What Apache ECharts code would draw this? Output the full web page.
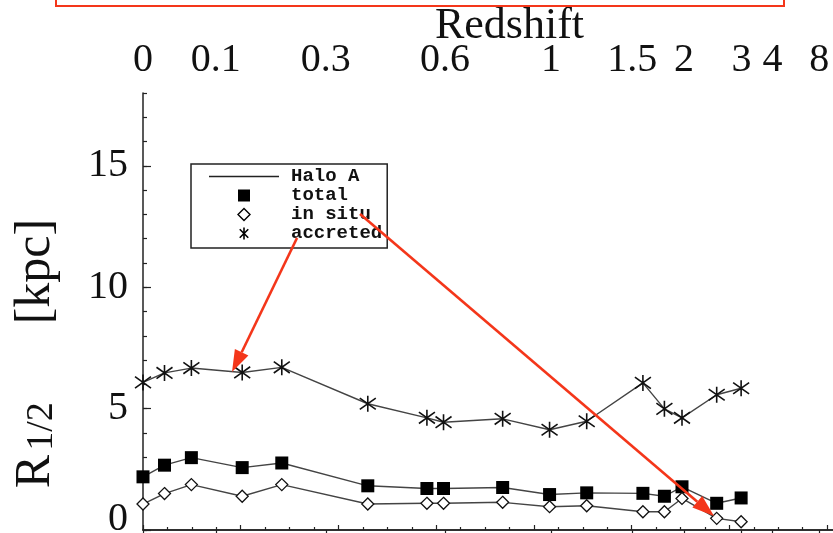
<!DOCTYPE html>
<html>
<head>
<meta charset="utf-8">
<style>
  html, body { margin: 0; padding: 0; background: #ffffff; }
  #chart { width: 833px; height: 533px; }
</style>
<script src="https://cdn.jsdelivr.net/npm/echarts@6/dist/echarts.min.js"></script>
</head>
<body>
<div id="chart"></div>
<script>
// ---- data (x = time coordinate of the bottom axis, y = R_1/2 in kpc) ----
const snapTimes   = [0.00, 0.44, 0.99, 2.03, 2.84, 4.60, 5.81, 6.15, 7.36, 8.32, 9.08, 10.23, 10.67, 11.03, 11.74, 12.24];
const totalR      = [2.19, 2.67, 2.98, 2.57, 2.76, 1.82, 1.71, 1.71, 1.75, 1.46, 1.53, 1.51, 1.39, 1.78, 1.10, 1.32];
const inSituR     = [1.07, 1.50, 1.87, 1.39, 1.87, 1.07, 1.10, 1.10, 1.14, 0.96, 1.00, 0.75, 0.75, 1.30, 0.48, 0.34];
const accretedR   = [6.08, 6.47, 6.67, 6.49, 6.70, 5.20, 4.62, 4.44, 4.58, 4.13, 4.48, 6.06, 4.99, 4.62, 5.57, 5.84];

// top (redshift) axis: tick labels and their positions on the time axis
const zTickLabels = ['0', '0.1', '0.3', '0.6', '1', '1.5', '2', '3', '4', '8'];
const zTickPos    = [0, 1.49, 3.74, 6.18, 8.35, 10.01, 11.07, 12.25, 12.88, 13.84];

const seriesNames = ['Halo A', 'total', 'in situ', 'accreted'];

function pairs(xs, ys) { return xs.map((x, i) => [x, ys[i]]); }

const SERIF = '"Liberation Serif", "DejaVu Serif", serif';
const AXIS_COLOR = '#222';
const RED = '#f4361a';
const ASTERISK = 'path://M10,0L10,20M2.9,2.9L17.1,17.1M2.9,17.1L17.1,2.9';
const SQUARE = 'path://M0,0L10,0L10,10L0,10Z';
const DIAMOND = 'path://M5,0L10,5L5,10L0,5Z';

const chart = echarts.init(document.getElementById('chart'), null, { renderer: 'canvas' });

const option = {
  animation: false,
  backgroundColor: '#ffffff',
  grid: { left: 143, top: 93, right: -43, bottom: 3, containLabel: false, outerBoundsMode: 'none' },
  legend: {
    show: true,
    selectedMode: false,
    orient: 'vertical',
    left: 191, top: 164,
    padding: [3, 5, 5, 18],
    itemGap: 0,
    itemWidth: 70,
    itemHeight: 12,
    symbolKeepAspect: true,
    borderColor: '#222',
    borderWidth: 1.5,
    backgroundColor: '#fff',
    textStyle: { fontFamily: '"Liberation Mono", "DejaVu Sans Mono", monospace', fontWeight: 'bold', fontSize: 19, color: '#111', lineHeight: 19, padding: [0, 0, 0, 7] },
    data: [
      { name: seriesNames[0], icon: 'path://M0,0L70,0L70,1.5L0,1.5Z', itemStyle: { color: '#222', borderWidth: 0 } },
      { name: seriesNames[1], icon: SQUARE, itemStyle: { color: '#000', borderWidth: 0 } },
      { name: seriesNames[2], icon: DIAMOND, itemStyle: { color: '#fff', borderColor: '#000', borderWidth: 1.4 } },
      { name: seriesNames[3], icon: ASTERISK, itemStyle: { color: '#000', borderColor: '#000', borderWidth: 1.6 } }
    ]
  },
  xAxis: [
    {
      type: 'value', position: 'bottom', min: 0, max: 15, interval: 2,
      axisLine: { show: true, lineStyle: { color: AXIS_COLOR, width: 1.5 } },
      axisTick: { show: true, inside: true, length: 5, lineStyle: { color: AXIS_COLOR, width: 1.2 } },
      minorTick: { show: true, splitNumber: 4, length: 3, lineStyle: { color: AXIS_COLOR, width: 1.2 } },
      axisLabel: { show: false },
      splitLine: { show: false }
    },
    {
      type: 'value', position: 'top', min: 0, max: 15,
      name: 'Redshift', nameLocation: 'middle', nameGap: 45, nameMoveOverlap: false,
      nameTextStyle: { fontFamily: SERIF, fontSize: 44, color: '#111', lineHeight: 44 },
      axisLine: { show: true, lineStyle: { color: AXIS_COLOR, width: 1.5 } },
      axisTick: { show: true, inside: true, length: 5, customValues: zTickPos, lineStyle: { color: AXIS_COLOR, width: 1.2 } },
      axisLabel: {
        show: true, customValues: zTickPos, margin: 13,
        fontFamily: SERIF, fontSize: 40, lineHeight: 40, color: '#111',
        formatter: function (v) {
          let best = 0;
          for (let i = 1; i < zTickPos.length; i++) {
            if (Math.abs(zTickPos[i] - v) < Math.abs(zTickPos[best] - v)) best = i;
          }
          return zTickLabels[best];
        }
      },
      splitLine: { show: false }
    }
  ],
  yAxis: [
    {
      type: 'value', position: 'left', min: 0, max: 18, interval: 5,
      name: '{r|R}{s|1/2}{g|}{k|[kpc]}',
      nameLocation: 'middle', nameGap: 82, nameMoveOverlap: false,
      nameTextStyle: {
        fontFamily: SERIF, color: '#111', padding: [0, 84, 0, 0],
        rich: {
          r: { fontFamily: SERIF, fontSize: 50, lineHeight: 50, color: '#111' },
          s: { fontFamily: SERIF, fontSize: 38, lineHeight: 30, verticalAlign: 'bottom', color: '#111', padding: [0, 0, 0, 4] },
          g: { width: 78, lineHeight: 50 },
          k: { fontFamily: SERIF, fontSize: 50, lineHeight: 50, color: '#111' }
        }
      },
      axisLine: { show: true, lineStyle: { color: AXIS_COLOR, width: 1.5 } },
      axisTick: { show: true, inside: true, length: 8, lineStyle: { color: AXIS_COLOR, width: 1.2 } },
      axisLabel: {
        show: true, margin: 15, fontFamily: SERIF, fontSize: 40, color: '#111',
        showMaxLabel: false,
        formatter: function (v) { return v === 0 ? '{z|0}' : (v % 5 === 0 ? String(v) : ''); },
        rich: { z: { fontFamily: SERIF, fontSize: 40, color: '#111', padding: [0, 0, 22, 0] } }
      },
      splitLine: { show: false }
    },
    {
      type: 'value', position: 'left', min: 0, max: 18, interval: 1,
      axisLine: { show: false },
      axisTick: { show: true, inside: true, length: 4, lineStyle: { color: AXIS_COLOR, width: 1.2 } },
      axisLabel: { show: false },
      splitLine: { show: false }
    }
  ],
  series: [
    {
      name: seriesNames[0], type: 'line', data: [], xAxisIndex: 0, yAxisIndex: 0,
      itemStyle: { color: '#222' }, lineStyle: { color: '#222', width: 1.2 }
    },
    {
      name: seriesNames[1], type: 'line', xAxisIndex: 0, yAxisIndex: 0,
      data: pairs(snapTimes, totalR),
      symbol: 'rect', symbolSize: 13, showAllSymbol: true,
      itemStyle: { color: '#000', borderWidth: 0 },
      lineStyle: { color: '#444', width: 1.4 },
      emphasis: { disabled: true }, silent: true, z: 3
    },
    {
      name: seriesNames[2], type: 'line', xAxisIndex: 0, yAxisIndex: 0,
      data: pairs(snapTimes, inSituR),
      symbol: 'diamond', symbolSize: 12, showAllSymbol: true,
      itemStyle: { color: '#fff', borderColor: '#111', borderWidth: 1.3 },
      lineStyle: { color: '#444', width: 1.4 },
      emphasis: { disabled: true }, silent: true, z: 3
    },
    {
      name: seriesNames[3], type: 'line', xAxisIndex: 0, yAxisIndex: 0,
      data: pairs(snapTimes, accretedR),
      symbol: ASTERISK, symbolSize: 16, showAllSymbol: true,
      itemStyle: { color: '#000', borderColor: '#111', borderWidth: 1.6 },
      lineStyle: { color: '#444', width: 1.4 },
      emphasis: { disabled: true }, silent: true, z: 3
    }
  ],
  graphic: [
    { type: 'polyline', z: 100, shape: { points: [[56, -3], [56, 6], [784, 6], [784, -3]] }, style: { stroke: RED, lineWidth: 2, fill: null } },
    { type: 'line', z: 100, shape: { x1: 297, y1: 238, x2: 241.7, y2: 352.2 }, style: { stroke: RED, lineWidth: 2.6 } },
    { type: 'polygon', z: 100, shape: { points: [[232, 372], [248.4, 355.5], [234.9, 348.9]] }, style: { fill: RED } },
    { type: 'line', z: 100, shape: { x1: 360, y1: 214, x2: 697.3, y2: 501.7 }, style: { stroke: RED, lineWidth: 2.6 } },
    { type: 'polygon', z: 100, shape: { points: [[714, 516], [692.4, 507.4], [702.2, 496.0]] }, style: { fill: RED } }
  ]
};

chart.setOption(option);
</script>
</body>
</html>
